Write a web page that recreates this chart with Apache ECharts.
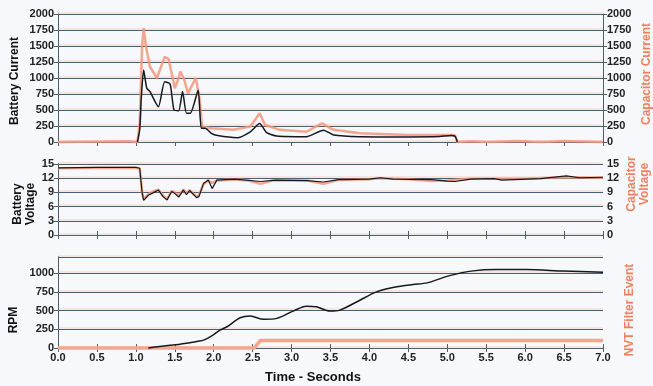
<!DOCTYPE html>
<html>
<head>
<meta charset="utf-8">
<script src="https://cdn.jsdelivr.net/npm/echarts@6/dist/echarts.min.js"></script>
<style>
  html, body { margin: 0; padding: 0; background: #f6f8fb; }
  #chart { width: 653px; height: 386px; }
</style>
</head>
<body>
<div id="chart"></div>
<script>
// time in seconds, value
const batteryCurrent = [[1.02, 0], [1.05, 200], [1.07, 700], [1.10, 1125], [1.14, 840], [1.18, 790], [1.29, 550], [1.37, 940], [1.44, 905], [1.49, 500], [1.55, 490], [1.60, 790], [1.65, 450], [1.70, 450], [1.80, 810], [1.84, 215], [1.89, 215], [1.97, 135], [2.05, 100], [2.30, 67], [2.47, 160], [2.59, 290], [2.68, 146], [2.81, 94], [3.19, 83], [3.41, 185], [3.54, 110], [3.88, 83], [4.5, 80], [4.9, 85], [5.05, 100], [5.10, 90], [5.13, 0]];
const capacitorCurrent = [[0, 0], [0.9, 10], [1.02, 0], [1.05, 300], [1.08, 1500], [1.10, 1780], [1.13, 1490], [1.18, 1180], [1.27, 1000], [1.37, 1330], [1.42, 1300], [1.50, 840], [1.55, 1000], [1.57, 1100], [1.62, 980], [1.67, 760], [1.77, 1000], [1.82, 660], [1.85, 240], [1.97, 215], [2.25, 190], [2.47, 240], [2.59, 450], [2.66, 266], [2.85, 190], [3.19, 160], [3.39, 290], [3.54, 190], [3.88, 135], [4.5, 110], [5.05, 110], [5.10, 100], [5.13, 0], [5.3, 10], [5.5, 0], [5.9, 15], [6.2, 0], [6.5, 15], [7.0, 0]];
const batteryVoltage = [[0, 14.2], [0.5, 14.3], [1.0, 14.3], [1.05, 14.1], [1.08, 9], [1.10, 7.3], [1.16, 8.4], [1.22, 8.9], [1.29, 9.5], [1.35, 8.1], [1.40, 7.4], [1.46, 9.2], [1.50, 8.8], [1.55, 8.0], [1.61, 9.5], [1.65, 8.5], [1.69, 9.4], [1.78, 7.9], [1.81, 8.1], [1.87, 10.9], [1.93, 11.6], [1.98, 9.8], [2.04, 11.6], [2.27, 11.8], [2.6, 11.3], [2.8, 11.6], [3.2, 11.5], [3.41, 11.2], [3.6, 11.7], [4.0, 11.8], [4.14, 12.1], [4.3, 11.8], [4.8, 11.7], [5.0, 11.4], [5.1, 11.3], [5.3, 11.8], [5.6, 11.9], [5.7, 11.6], [6.2, 11.9], [6.53, 12.5], [6.7, 12.1], [7.0, 12.2]];
const capacitorVoltage = [[0, 14.1], [1.0, 14.2], [1.05, 14.0], [1.08, 9], [1.10, 7.6], [1.16, 8.6], [1.22, 9.2], [1.29, 9.6], [1.35, 8.3], [1.40, 7.6], [1.46, 9.3], [1.50, 9.0], [1.55, 8.3], [1.61, 9.6], [1.65, 8.8], [1.69, 9.5], [1.78, 8.1], [1.81, 8.4], [1.87, 10.8], [1.93, 11.5], [1.98, 11.0], [2.04, 11.5], [2.27, 11.7], [2.45, 11.5], [2.6, 10.8], [2.75, 11.5], [3.2, 11.5], [3.41, 10.8], [3.6, 11.6], [4.0, 11.8], [4.14, 12.0], [4.5, 11.8], [4.8, 11.4], [5.0, 11.5], [5.3, 11.9], [6.0, 11.9], [6.5, 12.2], [7.0, 12.1]];
const rpm = [[1.16, 0], [1.3, 20], [1.48, 40], [1.65, 65], [1.8, 90], [1.87, 105], [1.99, 174], [2.08, 240], [2.17, 285], [2.34, 405], [2.47, 428], [2.64, 385], [2.81, 397], [3.02, 495], [3.19, 561], [3.32, 552], [3.49, 495], [3.62, 508], [3.84, 620], [4.09, 753], [4.35, 820], [4.56, 851], [4.74, 873], [5.03, 970], [5.33, 1034], [5.63, 1052], [6.02, 1052], [6.49, 1032], [7.0, 1016]];
const nvtFilterEvent = [[0, 0], [2.52, 0], [2.6, 1], [7.0, 1]];

const AXIS = '#4c5f72';
const ORANGE = '#f4957a';
const font = 'Liberation Sans, Arial, sans-serif';
const lbl = { fontFamily: font, fontWeight: 'bold', fontSize: 11, color: '#222', margin: 4 };
const grid_line = {
  show: true,
  lineStyle: { color: '#4c5f72', width: 1.2, shadowColor: 'rgba(244,150,120,0.4)', shadowOffsetY: -1.5, shadowBlur: 0 },
};

function xAx(gridIndex, pos, labels) {
  return {
    type: 'value', gridIndex, position: pos, min: 0, max: 7, interval: 0.5,
    axisLine: { lineStyle: { color: AXIS } },
    axisTick: { show: true, length: 4, lineStyle: { color: AXIS } },
    axisLabel: labels ? Object.assign({ formatter: (v) => v.toFixed(1) }, lbl) : { show: false },
    splitLine: { show: false },
  };
}

function yAx(gridIndex, pos, min, max, interval, labels, split) {
  return {
    type: 'value', gridIndex, position: pos, min, max, interval,
    axisLine: { show: true, lineStyle: { color: AXIS } },
    axisTick: { show: true, length: 4, lineStyle: { color: AXIS } },
    axisLabel: labels
      ? Object.assign({ showMaxLabel: max % interval === 0, formatter: (v) => String(v) }, lbl)
      : { show: false },
    splitLine: split ? grid_line : { show: false },
  };
}

function title(text, x, y, color) {
  return {
    type: 'text', x, y, rotation: Math.PI / 2,
    style: { text, fill: color, font: `bold 12px ${font}`, align: 'center', verticalAlign: 'middle', lineHeight: 13 },
  };
}

const myChart = echarts.init(document.getElementById('chart'));
myChart.setOption({
  backgroundColor: '#f6f8fb',
  animation: false,
  grid: [
    { left: 58, right: 50, top: 14, height: 128 },
    { left: 58, right: 50, top: 164, height: 71 },
    { left: 58, right: 50, top: 257, height: 91 },
  ],
  xAxis: [
    xAx(0, 'bottom', false),
    xAx(1, 'bottom', false),
    xAx(1, 'top', false),
    xAx(2, 'top', false),
    xAx(2, 'bottom', true),
  ],
  yAxis: [
    yAx(0, 'left', 0, 2000, 250, true, true),
    yAx(0, 'right', 0, 2000, 250, true, false),
    yAx(1, 'left', 0, 15, 3, true, true),
    yAx(1, 'right', 0, 15, 3, true, false),
    yAx(2, 'left', 0, 1220, 250, true, true),
    Object.assign(yAx(2, 'right', 0, 12, 2, false, false), { axisTick: { show: false } }),
  ],
  graphic: [
    title('Battery Current', 15, 81, '#111'),
    title('Capacitor Current', 647, 74, '#f07f5e'),
    title('Battery\nVoltage', 24, 204, '#111'),
    title('Capacitor\nVoltage', 638, 184, '#f07f5e'),
    title('RPM', 14, 320, '#111'),
    title('NVT Filter Event', 630, 310, '#f07f5e'),
    {
      type: 'text', x: 313, y: 377,
      style: { text: 'Time - Seconds', fill: '#111', font: `bold 13px ${font}`, align: 'center', verticalAlign: 'middle' },
    },
  ],
  series: [
    {
      type: 'line', xAxisIndex: 0, yAxisIndex: 1, data: capacitorCurrent, showSymbol: false, clip: false,
      lineStyle: { color: ORANGE, width: 2.5, opacity: 0.85 },
    },
    {
      type: 'line', xAxisIndex: 0, yAxisIndex: 0, data: batteryCurrent, showSymbol: false, clip: false, smooth: 0.2,
      lineStyle: { color: '#15191d', width: 1.5 },
    },
    {
      type: 'line', xAxisIndex: 1, yAxisIndex: 3, data: capacitorVoltage, showSymbol: false, clip: false,
      lineStyle: { color: ORANGE, width: 2.5, opacity: 0.85 },
    },
    {
      type: 'line', xAxisIndex: 1, yAxisIndex: 2, data: batteryVoltage, showSymbol: false, clip: false,
      lineStyle: { color: '#15191d', width: 1.2 },
    },
    {
      type: 'line', xAxisIndex: 4, yAxisIndex: 5, data: nvtFilterEvent, showSymbol: false, clip: false,
      lineStyle: { color: '#f6a48d', width: 3.5 },
    },
    {
      type: 'line', xAxisIndex: 4, yAxisIndex: 4, data: rpm, showSymbol: false, clip: false, smooth: 0.3,
      lineStyle: { color: '#15191d', width: 1.5 },
    },
  ],
});
</script>
</body>
</html>
